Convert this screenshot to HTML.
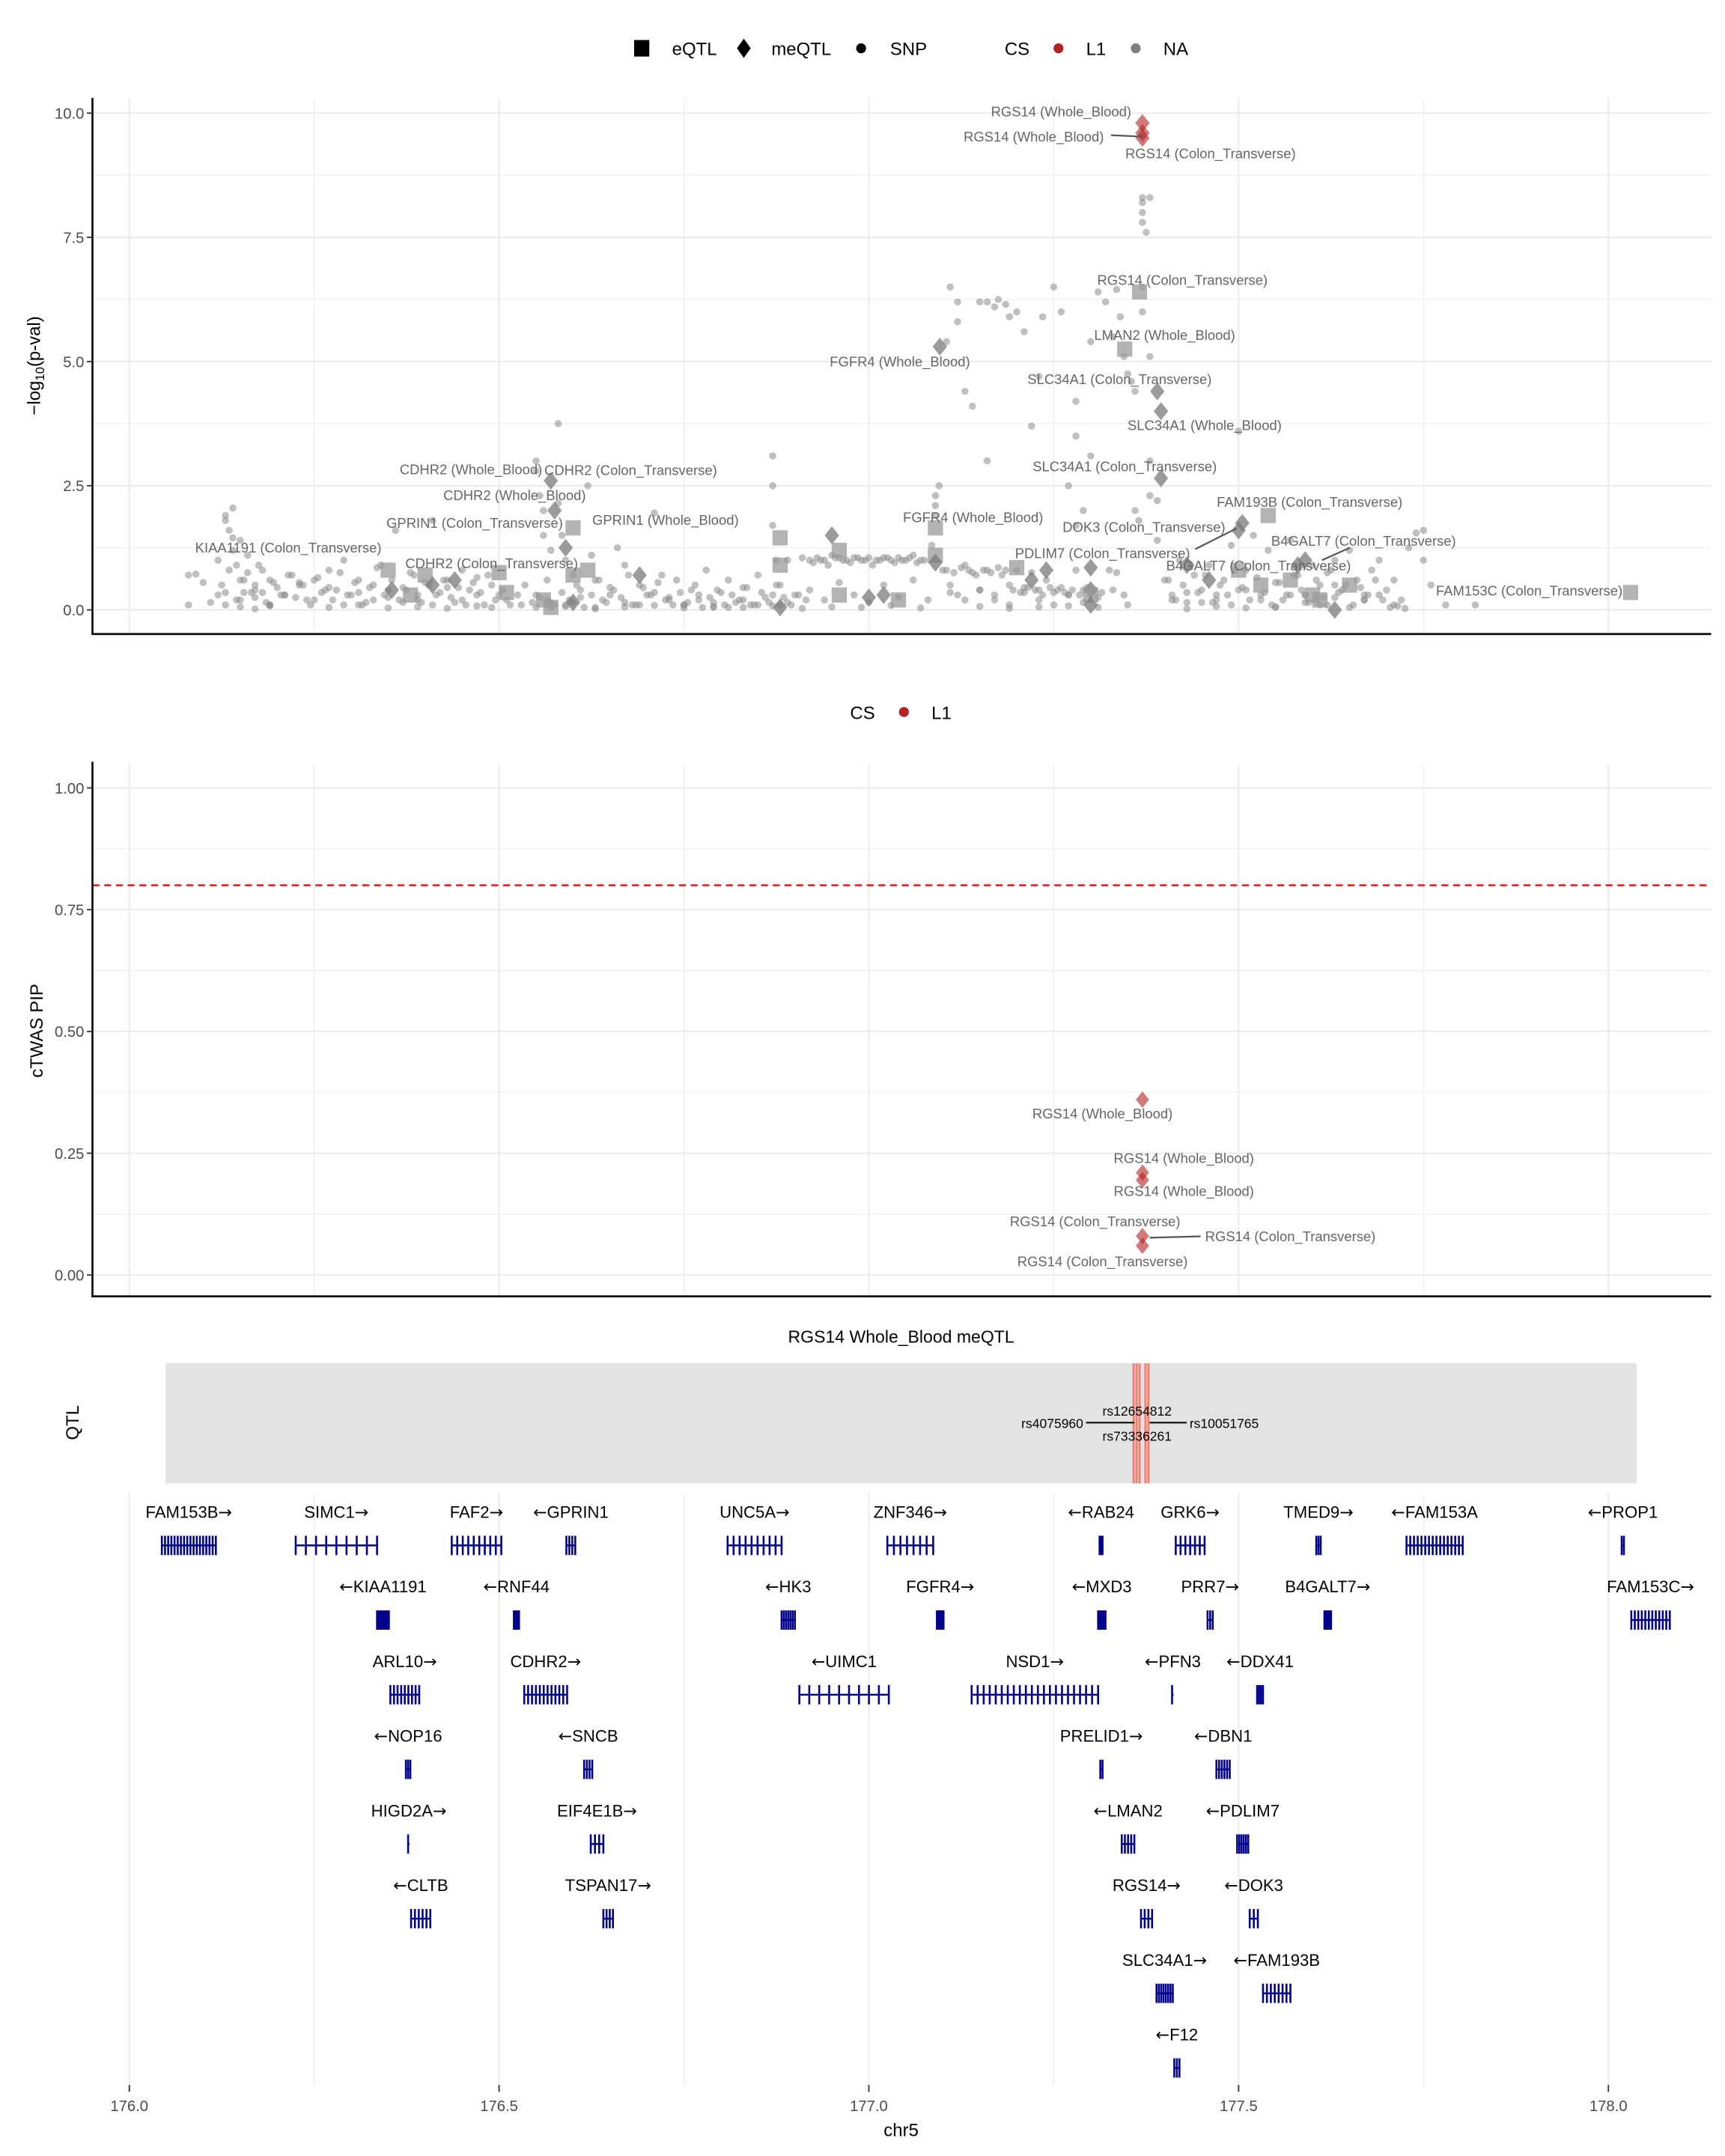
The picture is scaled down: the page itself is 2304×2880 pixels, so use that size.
<!DOCTYPE html>
<html><head><meta charset="utf-8"><style>
html,body{margin:0;padding:0;background:#fff;}
svg{display:block;font-family:"Liberation Sans",sans-serif;}
.arr{font-family:"DejaVu Sans",sans-serif;}
</style></head><body>
<svg id="chart" width="2304" height="2880" viewBox="0 0 1250 1562.5" preserveAspectRatio="none" xmlns="http://www.w3.org/2000/svg">
<g id="legend1" font-size="13" fill="#000">
  <rect x="459.5" y="29" width="11" height="12" fill="#000"/>
  <text x="487" y="40">eQTL</text>
  <polygon points="539,28 544,35 539,42 534,35" fill="#000"/>
  <text x="559" y="40">meQTL</text>
  <circle cx="624" cy="35" r="3.6" fill="#000"/>
  <text x="645" y="40">SNP</text>
  <text x="728" y="40">CS</text>
  <circle cx="767" cy="35" r="3.6" fill="#b22222"/>
  <text x="787" y="40">L1</text>
  <circle cx="823" cy="35" r="3.6" fill="#808080"/>
  <text x="843" y="40">NA</text>
</g>
<g id="legend2" font-size="13">
  <text x="616" y="521">CS</text>
  <circle cx="655" cy="516" r="3.6" fill="#b22222"/>
  <text x="675" y="521">L1</text>
</g>
<g id="p1grid"></g><g id="p2grid"></g><g id="p3grid"></g>
<g id="p1marks"></g><g id="p2marks"></g><g id="p3marks"></g>
<g id="labels" font-size="10" fill="#666"></g>
<g id="axes"></g>
</svg>
<script>
// ---------- data ----------
const xTicks = [176.0, 176.5, 177.0, 177.5, 178.0];
const xTickLabels = ["176.0", "176.5", "177.0", "177.5", "178.0"];
const p1Ticks = [0, 2.5, 5, 7.5, 10];
const p1TickLabels = ["0.0", "2.5", "5.0", "7.5", "10.0"];
const p2Ticks = [0, 0.25, 0.5, 0.75, 1.0];
const p2TickLabels = ["0.00", "0.25", "0.50", "0.75", "1.00"];
const pipThreshold = 0.8;

const snpPos = [176.08,176.08,176.09,176.1,176.12,176.12,176.13,176.13,176.135,176.14,176.14,176.14,176.145,176.15,176.15,176.155,176.16,176.16,176.17,176.17,176.18,176.18,176.19,176.19,176.2,176.21,176.22,176.23,176.24,176.25,176.26,176.27,176.28,176.29,176.30,176.31,176.32,176.33,176.34,176.35,176.36,176.37,176.38,176.39,176.40,176.41,176.42,176.43,176.44,176.45,176.46,176.47,176.48,176.49,176.5,
176.55,176.55,176.555,176.56,176.56,176.57,176.565,176.57,176.58,176.58,176.585,176.59,176.6,176.6,176.61,176.62,176.625,176.63,176.64,176.65,176.66,176.67,176.68,176.69,176.7,176.71,176.72,176.73,176.74,176.75,176.76,176.77,176.78,176.79,176.8,176.81,176.82,176.83,176.84,176.85,176.86,176.87,176.87,176.87,176.875,176.88,176.88,176.89,176.9,
176.91,176.92,176.93,176.94,176.95,176.96,176.97,176.98,176.99,177.0,177.01,177.02,177.03,177.04,177.05,177.06,177.07,176.92,176.94,176.96,176.98,177.0,177.02,177.04,177.06,177.08,177.085,177.09,177.09,177.09,177.095,177.1,177.11,177.12,177.13,177.14,177.15,177.16,177.17,177.18,177.19,177.2,177.21,177.22,177.23,177.24,177.25,177.26,177.27,177.28,177.29,
177.11,177.12,177.12,177.105,177.13,177.14,177.15,177.16,177.17,177.175,177.185,177.19,177.2,177.21,177.16,177.22,177.23,177.235,177.25,177.26,177.27,177.28,177.28,177.29,177.28,177.3,177.3,177.31,177.32,177.33,177.335,177.34,177.345,177.35,177.355,177.36,177.36,177.365,177.37,177.37,177.37,177.37,177.375,177.38,177.37,177.37,177.38,177.38,177.38,177.39,177.39,
177.4,177.41,177.42,177.43,177.44,177.45,177.46,177.47,177.48,177.49,177.5,177.5,177.51,177.52,177.53,177.54,177.55,177.56,177.57,177.58,177.59,177.6,177.61,177.62,177.62,177.63,177.64,177.65,177.66,177.67,177.68,177.69,177.7,177.71,177.72,177.73,177.74,177.75,177.75,177.76,177.78,177.82,
176.11,176.13,176.15,176.17,176.19,176.21,176.23,176.25,176.27,176.29,176.31,176.33,176.35,176.37,176.39,176.41,176.43,176.45,176.47,176.49,176.51,176.53,176.55,176.57,176.59,176.61,176.63,176.65,176.67,176.69,176.71,176.73,176.75,176.77,176.79,176.81,176.83,176.85,176.87,176.89,177.11,177.13,177.15,177.17,177.19,177.21,177.23,177.25,177.27,177.29,177.31,177.33,177.35,177.41,177.43,177.45,177.47,177.49,177.51,177.53,177.55,177.57,177.59,177.61,177.63,177.65,177.67,177.69,177.71,
176.125,176.135,176.145,176.155,176.165,176.175,176.185,176.195,176.205,176.215,176.225,176.235,176.245,176.255,176.265,176.275,176.285,176.295,176.305,176.315,176.325,176.335,176.345,176.355,176.365,176.375,176.385,176.395,176.405,176.415,176.425,176.435,176.445,176.455,176.465,176.475,176.485,176.495,176.505,176.515,176.525,176.535,176.545,176.555,176.565,176.575,176.585,176.595,176.605,176.615,176.625,176.635,176.645,176.655,176.665,176.675,176.685,176.695,176.705,176.715,176.725,176.735,176.745,176.755,176.765,176.775,176.785,176.795,176.805,176.815,176.825,176.835,176.845,176.855,176.865,176.875,176.885,176.895,176.905,176.915,176.925,176.935,176.945,176.955,176.965,176.975,176.985,176.995,177.005,177.015,177.025,177.035,177.045,177.055,177.065,177.075,177.105,177.115,177.125,177.135,177.145,177.155,177.165,177.175,177.185,177.195,177.205,177.215,177.225,177.235,177.245,177.255,177.265,177.275,177.285,177.295,177.305,177.315,177.325,177.335,177.345,177.405,177.415,177.425,177.435,177.445,177.455,177.465,177.475,177.485,177.495,177.505,177.515,177.525,177.535,177.545,177.555,177.565,177.575,177.585,177.595,177.605,177.615,177.625,177.635,177.645,177.655,177.665,177.675,177.685,177.695,177.705,177.715,177.725,
176.13,176.15,176.17,176.19,176.27,176.31,176.35,176.39,176.43,176.47,176.55,176.59,176.63,176.67,176.71,176.75,176.79,176.83,176.87,176.91,176.95,176.99,177.03,177.07,177.15,177.19,177.23,177.27,177.31,177.43,177.47,177.51,177.55,177.59,177.63,177.67];
const snpVal = [0.7,0.1,0.72,0.55,0.3,1.0,1.9,1.8,1.6,2.05,1.45,1.2,0.9,1.4,0.6,0.35,1.1,0.75,0.5,0.25,0.8,0.35,0.6,0.1,0.45,0.3,0.7,0.55,0.2,0.6,0.35,0.8,0.4,1.0,0.3,0.6,0.15,0.5,0.9,0.25,1.6,0.45,0.75,0.2,0.55,1.8,0.35,0.6,0.15,0.8,0.4,0.65,0.1,0.5,0.3,
3.0,2.8,2.3,2.0,1.5,1.2,0.2,0.05,3.75,2.15,1.5,1.0,0.7,0.15,0.4,2.5,1.1,0.6,0.2,0.45,1.25,0.9,0.1,0.5,0.3,1.95,0.7,0.25,0.6,0.1,0.4,0.2,0.8,0.05,0.35,0.6,0.15,0.45,0.1,0.7,0.25,3.1,2.5,1.7,1.0,0.5,0.1,1.0,0.3,
1.05,1.0,1.05,1.0,1.1,1.05,1.0,1.05,1.0,1.05,1.0,1.05,1.0,1.05,1.0,1.1,1.0,0.4,0.2,0.55,0.3,0.15,0.5,0.25,0.6,0.2,1.3,2.3,2.1,1.9,2.5,0.8,0.5,0.3,0.9,0.75,0.4,0.8,0.2,0.7,0.5,0.8,0.35,0.75,0.4,0.6,0.1,0.45,0.3,0.8,0.4,
6.5,6.2,5.8,5.4,4.4,4.1,6.2,6.2,6.1,6.25,6.15,5.9,6.0,5.6,3.0,3.7,4.7,5.9,6.5,6.0,2.5,4.2,3.5,2.0,1.7,5.4,3.1,6.4,6.2,5.5,6.45,5.9,5.1,4.75,4.6,4.4,2.0,1.8,8.3,8.2,8.0,7.8,7.6,8.3,6.5,6.0,5.1,3.0,2.3,2.2,1.4,
0.6,0.3,1.0,0.15,0.7,0.4,0.9,0.2,0.6,1.3,0.4,3.6,0.8,1.5,0.3,1.2,0.55,0.2,1.4,0.7,0.3,0.9,0.5,0.1,0.75,1.0,0.4,1.2,0.6,0.3,0.8,1.0,0.4,0.6,0.2,1.25,1.55,1.6,1.0,0.5,0.1,0.1,
0.15,0.35,0.2,0.4,0.1,0.3,0.5,0.2,0.45,0.1,0.35,0.2,0.4,0.15,0.3,0.1,0.45,0.2,0.3,0.05,0.2,0.1,0.3,0.15,0.1,0.25,0.05,0.3,0.15,0.1,0.35,0.2,0.1,0.3,0.15,0.05,0.2,0.1,0.3,0.15,0.35,0.2,0.4,0.3,0.1,0.45,0.2,0.35,0.3,0.15,0.25,0.4,0.1,0.2,0.35,0.15,0.3,0.1,0.4,0.2,0.05,0.3,0.15,0.1,0.25,0.05,0.2,0.3,0.1,
0.5,0.8,0.2,0.6,0.35,0.9,0.15,0.55,0.3,0.7,0.25,0.5,0.1,0.65,0.4,0.2,0.75,0.3,0.55,0.1,0.45,0.85,0.3,0.6,0.2,0.4,0.7,0.15,0.5,0.3,0.6,0.25,0.45,0.1,0.55,0.35,0.7,0.2,0.4,0.1,0.3,0.5,0.15,0.25,0.6,0.1,0.35,0.2,0.5,0.05,0.3,0.6,0.15,0.4,0.25,0.7,0.1,0.45,0.3,0.55,0.2,0.1,0.35,0.15,0.5,0.05,0.25,0.4,0.1,0.3,0.2,0.45,0.1,0.35,0.15,0.5,0.25,0.1,0.3,0.2,0.95,1.0,0.9,1.05,1.0,0.95,1.05,1.0,0.9,1.0,1.05,0.95,1.0,1.05,0.95,1.0,0.8,0.75,0.85,0.8,0.7,0.8,0.75,0.85,0.8,0.4,0.35,0.45,0.4,0.3,0.45,0.4,0.35,0.4,0.3,0.45,0.4,0.35,0.8,0.75,0.3,0.6,0.2,0.5,0.9,0.35,0.7,0.15,0.5,0.3,0.8,0.45,0.2,0.65,0.35,0.1,0.55,0.3,0.7,0.4,0.15,0.6,0.25,0.8,0.35,0.5,0.1,0.45,0.3,0.6,0.2,
0.05,0.08,0.03,0.1,0.06,0.02,0.08,0.05,0.1,0.04,0.06,0.03,0.08,0.05,0.07,0.02,0.06,0.09,0.04,0.07,0.05,0.08,0.03,0.06,0.05,0.09,0.04,0.07,0.03,0.06,0.08,0.05,0.02,0.07,0.04,0.06,0.3,0.5,0.2];

const qtlPos = [176.35,176.355,176.38,176.40,176.41,176.44,176.5,176.51,176.57,176.575,176.6,176.59,176.6,176.62,176.6,176.56,176.57,176.69,176.88,176.88,176.88,176.95,176.96,176.96,177.0,177.02,177.04,177.09,177.09,177.09,177.2,177.22,177.24,177.3,177.3,177.3,177.3,177.096,177.346,177.366,177.39,177.395,177.395,177.54,177.505,177.5,177.43,177.46,177.5,177.53,177.59,177.6,177.61,177.63,177.65,178.03,177.57,177.58];
const qtlVal = [0.8,0.4,0.3,0.7,0.5,0.6,0.75,0.35,2.6,2.0,1.65,1.25,0.7,0.8,0.15,0.2,0.05,0.7,1.45,0.9,0.05,1.5,1.2,0.3,0.25,0.3,0.2,1.65,1.1,0.95,0.85,0.6,0.8,0.85,0.4,0.3,0.1,5.3,5.25,6.4,4.4,4.0,2.65,1.9,1.75,1.6,0.9,0.6,0.8,0.5,1.0,0.3,0.2,0.0,0.5,0.35,0.6,0.9];
const qtlType = ["e","m","e","e","m","m","e","e","m","m","e","m","e","e","m","e","e","m","e","e","m","m","e","e","m","m","e","e","e","m","e","m","m","m","m","e","m","m","e","e","m","m","m","e","m","m","m","m","e","e","m","e","e","m","e","e","e","m"];

const csPos = [177.37, 177.37, 177.37];
const csVal = [9.8, 9.6, 9.5];

const p1LabelText = ["RGS14 (Whole_Blood)","RGS14 (Whole_Blood)","RGS14 (Colon_Transverse)","RGS14 (Colon_Transverse)","LMAN2 (Whole_Blood)","FGFR4 (Whole_Blood)","SLC34A1 (Colon_Transverse)","SLC34A1 (Whole_Blood)","SLC34A1 (Colon_Transverse)","FAM193B (Colon_Transverse)","B4GALT7 (Colon_Transverse)","DOK3 (Colon_Transverse)","FGFR4 (Whole_Blood)","PDLIM7 (Colon_Transverse)","B4GALT7 (Colon_Transverse)","FAM153C (Colon_Transverse)","CDHR2 (Whole_Blood)","CDHR2 (Colon_Transverse)","CDHR2 (Whole_Blood)","GPRIN1 (Colon_Transverse)","GPRIN1 (Whole_Blood)","KIAA1191 (Colon_Transverse)","CDHR2 (Colon_Transverse)"];
const p1LabelPos = [177.260,177.223,177.462,177.424,177.40,177.042,177.339,177.454,177.346,177.596,177.669,177.372,177.141,177.316,177.527,177.893,176.462,176.678,176.521,176.467,176.725,176.215,176.49];
const p1LabelVal = [10.03,9.53,9.19,6.64,5.53,5.0,4.64,3.72,2.89,2.17,1.39,1.67,1.86,1.14,0.89,0.39,2.83,2.81,2.31,1.75,1.81,1.25,0.94];

const pipPos = [177.37,177.37,177.37,177.37,177.37];
const pipVal = [0.36,0.21,0.195,0.08,0.06];
const p2LabelText = ["RGS14 (Whole_Blood)","RGS14 (Whole_Blood)","RGS14 (Whole_Blood)","RGS14 (Colon_Transverse)","RGS14 (Colon_Transverse)","RGS14 (Colon_Transverse)"];
const p2LabelPos = [177.316,177.426,177.426,177.306,177.570,177.316];
const p2LabelVal = [0.331,0.24,0.172,0.11,0.079,0.028];

const qtlSnpPos = [177.358,177.362,177.366,177.374,177.378];
const qtlSnpNames = ["rs4075960","rs12654812","rs73336261","rs10051765"];

const geneNames = ["FAM153B","SIMC1","FAF2","GPRIN1","UNC5A","ZNF346","RAB24","GRK6","TMED9","FAM153A","PROP1",
 "KIAA1191","RNF44","HK3","FGFR4","MXD3","PRR7","B4GALT7","FAM153C",
 "ARL10","CDHR2","UIMC1","NSD1","PFN3","DDX41",
 "NOP16","SNCB","PRELID1","DBN1",
 "HIGD2A","EIF4E1B","LMAN2","PDLIM7",
 "CLTB","TSPAN17","RGS14","DOK3",
 "SLC34A1","FAM193B","F12"];
const geneStart = [176.044,176.225,176.436,176.591,176.809,177.025,177.312,177.415,177.605,177.727,178.018,
 176.335,176.52,176.882,177.092,177.31,177.458,177.616,178.031,
 176.353,176.534,176.906,177.139,177.41,177.525,
 176.374,176.615,177.313,177.47,
 176.377,176.624,177.342,177.498,
 176.381,176.641,177.368,177.515,
 177.389,177.533,177.413];
const geneEnd = [176.117,176.335,176.503,176.603,176.882,177.087,177.316,177.454,177.611,177.803,178.021,
 176.351,176.527,176.900,177.101,177.32,177.465,177.625,178.083,
 176.392,176.592,177.027,177.310,177.412,177.533,
 176.380,176.626,177.316,177.488,
 176.379,176.641,177.359,177.513,
 176.407,176.654,177.383,177.526,
 177.411,177.570,177.420];
const geneStrand = ["+","+","+","-","+","+","-","+","+","-","-",
 "-","-","-","+","-","+","+","+",
 "+","+","-","+","-","-",
 "-","-","+","-",
 "+","+","-","-",
 "-","+","+","-",
 "+","-","-"];
const geneRow = [0,0,0,0,0,0,0,0,0,0,0, 1,1,1,1,1,1,1,1, 2,2,2,2,2,2, 3,3,3,3, 4,4,4,4, 5,5,5,5, 6,6,7];
const geneExons = [18,9,10,4,10,8,3,7,3,16,2, 8,4,7,8,5,3,5,12, 9,12,10,22,1,4, 3,4,2,6, 1,4,5,6, 6,4,4,3, 8,8,3];

// ---------- scales ----------
const NS = "http://www.w3.org/2000/svg";
const X = mb => 93.7 + (mb - 176) * 535.9;
const Y1 = v => 442 - v * 36.0;
const Y2 = p => 924 - p * 353;
const ROW0 = 1096, ROWH = 54.1;
function mk(tag, attrs, parent) {
  const e = document.createElementNS(NS, tag);
  for (const k in attrs) e.setAttribute(k, attrs[k]);
  parent.appendChild(e);
  return e;
}
const g1 = document.getElementById('p1grid'), g2 = document.getElementById('p2grid'), g3 = document.getElementById('p3grid');
const m1 = document.getElementById('p1marks'), m2 = document.getElementById('p2marks'), m3 = document.getElementById('p3marks');
const lab = document.getElementById('labels'), ax = document.getElementById('axes');

// ---------- grids ----------
function vgrid(parent, y0, y1) {
  for (let mb = 176; mb <= 178.001; mb += 0.25) {
    const major = Math.abs(mb * 2 - Math.round(mb * 2)) < 1e-6;
    const l = mk('line', {x1: X(mb), x2: X(mb), y1: y0, y2: y1, stroke: '#ebebeb', 'stroke-width': major ? 1.1 : 0.55}, parent);
    
    
  }
}
vgrid(g1, 71, 458);
for (let v = 0; v <= 10.001; v += 1.25) {
  const major = Math.abs(v / 2.5 - Math.round(v / 2.5)) < 1e-6;
  const l = mk('line', {x1: 67, x2: 1240, y1: Y1(v), y2: Y1(v), stroke: '#ebebeb', 'stroke-width': major ? 1.1 : 0.55}, g1);
  
  
}
vgrid(g2, 554, 939);
for (let p = 0; p <= 1.001; p += 0.125) {
  const major = Math.abs(p / 0.25 - Math.round(p / 0.25)) < 1e-6;
  const l = mk('line', {x1: 67, x2: 1240, y1: Y2(p), y2: Y2(p), stroke: '#ebebeb', 'stroke-width': major ? 1.1 : 0.55}, g2);
  
  
}
vgrid(g3, 1082, 1512);

// ---------- panel 1 ----------
const nSnp = Math.min(snpPos.length, snpVal.length);
for (let i = 0; i < nSnp; i++) {
  const c = mk('circle', {cx: X(snpPos[i]), cy: Y1(snpVal[i]), r: 2.6, fill: '#8c8c8c', 'fill-opacity': 0.55}, m1);
  
  
}
function diamond(cx, cy, s, fill, op, parent) {
  return mk('polygon', {points: `${cx},${cy - s} ${cx + s * 0.8},${cy} ${cx},${cy + s} ${cx - s * 0.8},${cy}`, fill: fill, 'fill-opacity': op}, parent);
}
qtlPos.forEach((p, i) => {
  const cx = X(p), cy = Y1(qtlVal[i]);
  let e;
  if (qtlType[i] === 'e') {
    e = mk('rect', {x: cx - 5.5, y: cy - 5.5, width: 11, height: 11, fill: '#999', 'fill-opacity': 0.75}, m1);
    
  } else {
    e = diamond(cx, cy, 6.5, '#7a7a7a', 0.75, m1);
    
  }
  
});
csPos.forEach((p, i) => {
  const d = diamond(X(p), Y1(csVal[i]), 6.5, '#b22222', 0.6, m1);
  
  
});
[[805, 98, 828, 99], [866, 398, 896, 383], [958, 406, 978, 397]].forEach(s => {
  const l = mk('line', {x1: s[0], y1: s[1], x2: s[2], y2: s[3], stroke: '#555', 'stroke-width': 1.2}, m1);
  
  
});
p1LabelText.forEach((t, i) => {
  const tx = mk('text', {x: X(p1LabelPos[i]), y: Y1(p1LabelVal[i]) + 3.5, 'text-anchor': 'middle'}, lab);
  tx.textContent = t;
  
  
});

// ---------- panel 2 ----------
const thr = mk('line', {x1: 67, x2: 1240, y1: Y2(pipThreshold), y2: Y2(pipThreshold), stroke: '#ff0000', 'stroke-width': 1.3, 'stroke-dasharray': '5,3.5'}, m2);


pipPos.forEach((p, i) => {
  const d = diamond(X(p), Y2(pipVal[i]), 6, '#b22222', 0.6, m2);
  
  
});
const seg2 = mk('line', {x1: 833, y1: 897, x2: 870, y2: 896, stroke: '#555', 'stroke-width': 1.2}, m2);


p2LabelText.forEach((t, i) => {
  const tx = mk('text', {x: X(p2LabelPos[i]), y: Y2(p2LabelVal[i]) + 3.5, 'text-anchor': 'middle'}, lab);
  tx.textContent = t;
  
  
});

// ---------- panel 3: QTL track ----------
const ttl = mk('text', {x: 653, y: 973, 'text-anchor': 'middle', 'font-size': 12.5}, m3);
ttl.textContent = 'RGS14 Whole_Blood meQTL';


const qbg = mk('rect', {x: 120, y: 988, width: 1066, height: 87, fill: '#e3e3e3'}, m3);


qtlSnpPos.forEach(p => {
  const l = mk('line', {x1: X(p), x2: X(p), y1: 988, y2: 1075, stroke: '#f08070', 'stroke-width': 1.6}, m3);
  
  
});
[[787, 1031, 822, 1031], [833, 1031, 860, 1031]].forEach(s => {
  const l = mk('line', {x1: s[0], y1: s[1], x2: s[2], y2: s[3], stroke: '#000', 'stroke-width': 1.1}, m3);
  
  
});
[[785, 1035, 'end'], [824, 1026, 'middle'], [824, 1044, 'middle'], [862, 1035, 'start']].forEach((a, i) => {
  const tx = mk('text', {x: a[0], y: a[1], 'text-anchor': a[2], 'font-size': 9.5, fill: '#000'}, m3);
  tx.textContent = qtlSnpNames[i];
  
  
});
const qy = mk('text', {x: 0, y: 0, 'font-size': 13, 'text-anchor': 'middle', transform: 'translate(57,1031) rotate(-90)'}, m3);
qy.textContent = 'QTL';



// ---------- panel 3: genes ----------
geneNames.forEach((nm, i) => {
  const x0 = X(geneStart[i]), x1 = X(geneEnd[i]);
  const ly = ROW0 + geneRow[i] * ROWH, gy = ly + 24;
  const g = mk('g', {}, m3);
  
  
  mk('line', {x1: x0, x2: Math.max(x1, x0 + 0.8), y1: gy, y2: gy, stroke: '#00008b', 'stroke-width': 1.3}, g);
  const n = geneExons[i];
  for (let k = 0; k < n; k++) {
    const ex = n === 1 ? x0 : x0 + (x1 - x0) * k / (n - 1);
    mk('rect', {x: ex - 0.7, y: gy - 7, width: 1.4, height: 14, fill: '#00008b'}, g);
  }
  const t = mk('text', {x: (x0 + x1) / 2, y: ly + 4, 'text-anchor': 'middle', 'font-size': 12, fill: '#000'}, g);
  if (geneStrand[i] === '+') {
    t.appendChild(document.createTextNode(nm));
    const a = mk('tspan', {class: 'arr'}, t); a.textContent = '\u2192';
  } else {
    const a = mk('tspan', {class: 'arr'}, t); a.textContent = '\u2190';
    t.appendChild(document.createTextNode(nm));
  }
});

// ---------- axes ----------
function axisLine(x1, y1, x2, y2, name) {
  const l = mk('line', {x1, y1, x2, y2, stroke: '#000', 'stroke-width': 1.4}, ax);
  
  
}
axisLine(67, 71, 67, 460, 'p1-y-axis-line');
axisLine(66.3, 459.5, 1240, 459.5, 'p1-x-axis-line');
axisLine(67, 552, 67, 940, 'p2-y-axis-line');
axisLine(66.3, 939.5, 1240, 939.5, 'p2-x-axis-line');
p1Ticks.forEach((v, i) => {
  mk('line', {x1: 63, x2: 67, y1: Y1(v), y2: Y1(v), stroke: '#333', 'stroke-width': 1}, ax);
  const t = mk('text', {x: 61, y: Y1(v) + 4, 'text-anchor': 'end', 'font-size': 11, fill: '#4d4d4d'}, ax);
  t.textContent = p1TickLabels[i];
  
  
});
p2Ticks.forEach((v, i) => {
  mk('line', {x1: 63, x2: 67, y1: Y2(v), y2: Y2(v), stroke: '#333', 'stroke-width': 1}, ax);
  const t = mk('text', {x: 61, y: Y2(v) + 4, 'text-anchor': 'end', 'font-size': 11, fill: '#4d4d4d'}, ax);
  t.textContent = p2TickLabels[i];
  
  
});
xTicks.forEach((v, i) => {
  mk('line', {x1: X(v), x2: X(v), y1: 1511, y2: 1516, stroke: '#333', 'stroke-width': 1}, ax);
  const t = mk('text', {x: X(v), y: 1530, 'text-anchor': 'middle', 'font-size': 11, fill: '#4d4d4d'}, ax);
  t.textContent = xTickLabels[i];
  
  
});
const xt = mk('text', {x: 653, y: 1548, 'text-anchor': 'middle', 'font-size': 13}, ax);
xt.textContent = 'chr5';


const y1t = mk('text', {x: 0, y: 0, 'font-size': 13, 'text-anchor': 'middle', transform: 'translate(29,265) rotate(-90)'}, ax);
y1t.innerHTML = '\u2212log<tspan font-size="9" dy="3">10</tspan><tspan dy="-3">(p-val)</tspan>';


const y2t = mk('text', {x: 0, y: 0, 'font-size': 13, 'text-anchor': 'middle', transform: 'translate(31,747) rotate(-90)'}, ax);
y2t.textContent = 'cTWAS PIP';


</script>
</body></html>
